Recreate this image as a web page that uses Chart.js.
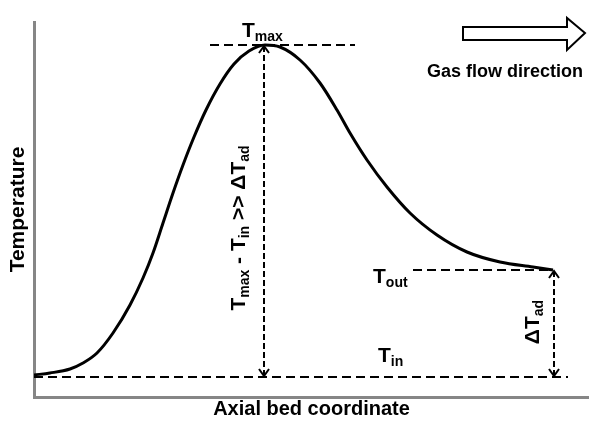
<!DOCTYPE html>
<html lang="en">
<head>
  <meta charset="UTF-8">
  <title>Axial temperature profile</title>
  <script src="https://cdn.jsdelivr.net/npm/chart.js"></script>
  <style>
    html, body {
      margin: 0;
      padding: 0;
      background: #fff;
    }
    #wrap {
      width: 589px;
      height: 421px;
    }
  </style>
</head>
<body>
<div id="wrap"><canvas id="profile" width="589" height="421"></canvas></div>

<script>
// axial position (arbitrary units) and temperature (arbitrary units)
const bedX = [0, 16, 36, 49, 63, 79, 96, 109, 119, 129, 139, 149, 160, 172, 186, 200, 215, 231,
  246, 266, 286, 303, 316, 333, 353, 376, 403, 433, 466, 499, 519];
const bedT = [22, 24, 28, 34, 44, 64, 92, 119, 144, 174, 204, 232, 260, 287, 313, 333, 346, 352,
  350, 337, 314, 287, 264, 237, 210, 184, 162, 145, 135, 130, 127];

const T_IN = 20;
const T_MAX = 352;
const T_OUT = 127;
const X_PEAK = 230;
const X_OUT = 520;

// extent of the dashed reference lines
const tinLineX = [0, 534];
const tmaxLineX = [176, 321];
const toutLineX = [379, 519];

function seg(xs, ys) {
  return xs.map((x, i) => ({ x: x, y: ys[i] }));
}

const FONT = "'Liberation Sans', Arial, sans-serif";

// draws a label with subscripts: parts = [[text, isSub], ...]
function drawSubText(ctx, parts, x, y, size, subSize, rotate) {
  ctx.save();
  ctx.translate(x, y);
  if (rotate) ctx.rotate(-Math.PI / 2);
  let total = 0;
  parts.forEach(p => {
    ctx.font = 'bold ' + (p[1] ? subSize : size) + 'px ' + FONT;
    total += ctx.measureText(p[0]).width;
  });
  let cx = rotate ? -total / 2 : 0;
  ctx.fillStyle = '#000';
  ctx.textBaseline = 'alphabetic';
  parts.forEach(p => {
    ctx.font = 'bold ' + (p[1] ? subSize : size) + 'px ' + FONT;
    ctx.fillText(p[0], cx, p[1] ? 4 : 0);
    cx += ctx.measureText(p[0]).width;
  });
  ctx.restore();
}

function chevron(ctx, x, y, dir) {
  // open arrow head, dir = -1 points up, 1 points down
  ctx.beginPath();
  ctx.moveTo(x - 5, y - dir * 7);
  ctx.lineTo(x, y);
  ctx.lineTo(x + 5, y - dir * 7);
  ctx.stroke();
}

const annotations = {
  id: 'annotations',
  afterDatasetsDraw(chart) {
    const ctx = chart.ctx;
    const xs = chart.scales.x;
    const ys = chart.scales.y;
    const px = v => xs.getPixelForValue(v);
    const py = v => ys.getPixelForValue(v);

    ctx.save();
    ctx.strokeStyle = '#000';
    ctx.lineWidth = 2;
    ctx.setLineDash([]);
    chevron(ctx, px(X_PEAK), py(T_MAX) + 1, -1);
    chevron(ctx, px(X_PEAK), py(T_IN) - 1, 1);
    chevron(ctx, px(X_OUT), py(T_OUT) + 1, -1);
    chevron(ctx, px(X_OUT), py(T_IN) - 1, 1);

    drawSubText(ctx, [['T', false], ['max', true]], px(208), py(360), 21, 14, false);
    drawSubText(ctx, [['T', false], ['out', true]], px(339), py(114), 21, 14, false);
    drawSubText(ctx, [['T', false], ['in', true]], px(344), py(35), 21, 14, false);
    drawSubText(ctx, [['T', false], ['max', true], [' - T', false], ['in', true], [' >> \u0394T', false], ['ad', true]],
      px(211), py(169), 21, 14, true);
    drawSubText(ctx, [['\u0394T', false], ['ad', true]], px(505), py(75), 21, 14, true);

    // hollow flow arrow
    ctx.lineWidth = 2;
    ctx.fillStyle = '#fff';
    ctx.beginPath();
    ctx.moveTo(px(429), py(370));
    ctx.lineTo(px(533), py(370));
    ctx.lineTo(px(533), py(379));
    ctx.lineTo(px(551), py(364));
    ctx.lineTo(px(533), py(347));
    ctx.lineTo(px(533), py(357));
    ctx.lineTo(px(429), py(357));
    ctx.closePath();
    ctx.fill();
    ctx.stroke();

    ctx.fillStyle = '#000';
    ctx.font = 'bold 18px ' + FONT;
    ctx.fillText('Gas flow direction', px(393), py(320));
    ctx.restore();
  }
};

const dashed = { borderColor: '#000', borderWidth: 2, borderDash: [9, 5], pointRadius: 0, fill: false };
const dotted = { borderColor: '#000', borderWidth: 2, borderDash: [6, 3], pointRadius: 0, fill: false };

new Chart(document.getElementById('profile'), {
  type: 'line',
  data: {
    datasets: [
      { label: 'Temperature', data: seg(bedX, bedT), borderColor: '#000', borderWidth: 3,
        pointRadius: 0, cubicInterpolationMode: 'monotone', fill: false },
      Object.assign({ label: 'T in', data: seg(tinLineX, [T_IN, T_IN]) }, dashed),
      Object.assign({ label: 'T max', data: seg(tmaxLineX, [T_MAX, T_MAX]) }, dashed),
      Object.assign({ label: 'T out', data: seg(toutLineX, [T_OUT, T_OUT]) }, dashed),
      Object.assign({ label: 'rise', data: seg([X_PEAK, X_PEAK], [T_IN + 1, T_MAX - 1]) }, dotted),
      Object.assign({ label: 'adiabatic', data: seg([X_OUT, X_OUT], [T_IN + 1, T_OUT - 1]) }, dotted)
    ]
  },
  options: {
    responsive: false,
    animation: false,
    layout: { padding: { top: 22, right: 0, left: 0, bottom: 0 } },
    plugins: {
      legend: { display: false },
      tooltip: { enabled: false }
    },
    scales: {
      x: {
        type: 'linear',
        min: 0,
        max: 555,
        grid: { display: false },
        border: { color: '#868686', width: 3 },
        ticks: { display: false },
        title: { display: true, text: 'Axial bed coordinate', color: '#000',
          font: { family: FONT, size: 20, weight: 'bold' }, padding: 0 },
        afterFit: s => { s.height = 24; }
      },
      y: {
        min: 0,
        max: 375,
        grid: { display: false },
        border: { color: '#868686', width: 3 },
        ticks: { display: false },
        title: { display: true, text: 'Temperature', color: '#000',
          font: { family: FONT, size: 21, weight: 'bold' }, padding: 6 },
        afterFit: s => { s.width = 34; }
      }
    }
  },
  plugins: [annotations]
});
</script>
</body>
</html>
